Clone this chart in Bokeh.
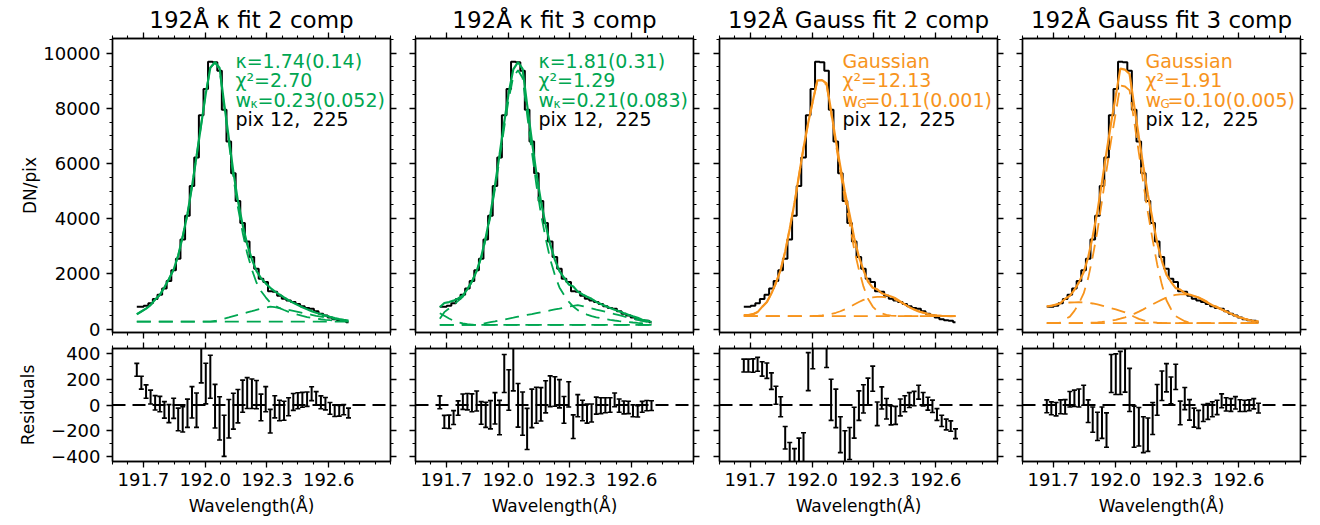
import numpy as np
from bokeh.plotting import figure
from bokeh.models import (Range1d, LinearAxis, FixedTicker, Label, Span,
                          ColumnDataSource, PrintfTickFormatter)
from bokeh.layouts import gridplot
from bokeh.embed import file_html
from bokeh.resources import INLINE

# ---------------- data ----------------
wavelength = [191.668, 191.690, 191.713, 191.735, 191.757, 191.780, 191.802, 191.824,
              191.847, 191.869, 191.891, 191.914, 191.936, 191.958, 191.981, 192.003,
              192.025, 192.048, 192.070, 192.092, 192.115, 192.137, 192.159, 192.182,
              192.204, 192.227, 192.249, 192.271, 192.294, 192.316, 192.338, 192.361,
              192.383, 192.405, 192.428, 192.450, 192.472, 192.495, 192.517, 192.539,
              192.562, 192.584, 192.606, 192.629, 192.651, 192.673, 192.696]

intensity = [816, 816, 852, 936, 1090, 1250, 1476, 1750, 2136, 2556, 3250, 4110, 5190,
             6216, 7750, 8700, 9690, 9670, 9360, 7950, 6800, 5652, 4641, 3849, 3173,
             2618, 2191, 1831, 1705, 1374, 1356, 1212, 1105, 1036, 984, 908, 835, 765,
             743, 647, 561, 500, 419, 360, 325, 304, 253]

sigma = [50, 50, 52, 54, 56, 60, 64, 70, 78, 88, 98, 110, 122, 134, 148, 158, 168, 170,
         168, 160, 150, 140, 130, 125, 120, 115, 110, 104, 98, 92, 86, 80, 74, 70, 66,
         62, 58, 56, 54, 52, 50, 48, 46, 44, 42, 40, 38]

# kappa, 2 components
fit_k2 = [542, 642, 747, 874, 1073, 1243, 1514, 1817, 2162, 2668, 3362, 4174, 5169, 6256,
          7430, 8533, 9470, 9679, 9464, 8190, 6907, 5700, 4650, 3780, 3080, 2530, 2110,
          1850, 1660, 1500, 1370, 1255, 1150, 1050, 960, 875, 795, 720, 655, 595, 540,
          490, 445, 405, 370, 340, 315]
res_k2 = [274, 174, 105, 62, 17, 7, -38, -67, -26, -112, -112, -64, 21, -40, 320, 167,
          220, -9, -104, -240, -107, -48, -9, 69, 93, 88, 81, -19, 45, -126, -14, -43,
          -45, -14, 24, 33, 40, 45, 88, 52, 21, 10, -26, -45, -45, -36, -62]
main_k2 = [542, 642, 747, 874, 1073, 1243, 1514, 1817, 2162, 2668, 3362, 4174, 5169, 6256,
           7430, 8533, 9470, 9659, 9404, 8085, 6757, 5505, 4410, 3495, 2750, 2155, 1690,
           1385, 1155, 960, 850, 765, 695, 630, 575, 525, 480, 440, 410, 385, 360, 340,
           325, 310, 300, 295, 290]
blend_k2 = [276, 276, 276, 276, 276, 276, 276, 276, 276, 276, 276, 276, 276, 276, 276, 276,
            276, 296, 336, 381, 426, 471, 516, 561, 606, 651, 696, 741, 781, 816, 796, 766,
            731, 696, 661, 626, 591, 556, 521, 486, 456, 426, 396, 371, 346, 321, 301]
bg_k2 = 276

# kappa, 3 components
fit_k3 = [795, 947, 983, 1034, 1114, 1224, 1450, 1733, 2105, 2618, 3326, 4186, 5216, 6314,
          7505, 8583, 9412, 9672, 9427, 8136, 6826, 5654, 4636, 3785, 3066, 2513, 2103,
          1869, 1622, 1543, 1361, 1255, 1172, 1098, 989, 913, 837, 765, 703, 652, 580,
          519, 464, 410, 339, 309, 258]
res_k3 = [21, -131, -131, -98, -24, 26, 26, 17, 31, -62, -76, -76, -26, -98, 245, 117, 278,
          -2, -67, -186, -26, -2, 5, 64, 107, 105, 88, -38, 83, -169, -5, -43, -67, -62,
          -5, -5, -2, 0, 40, -5, -19, -19, -45, -50, -14, -5, -5]
main_k3 = [375, 617, 753, 884, 1024, 1174, 1425, 1723, 2105, 2588, 3261, 4086, 5086, 6149,
           7310, 8353, 9152, 9377, 9102, 7776, 6436, 5229, 4176, 3295, 2541, 1953, 1513,
           1244, 1000, 820, 690, 600, 530, 475, 430, 395, 365, 338, 315, 295, 275, 258,
           242, 228, 215, 204, 194]
left_k3 = [576, 486, 386, 306, 246, 206, 181, 166, 156, 156, 156, 156, 156, 156, 156, 156,
           156, 156, 156, 156, 156, 156, 156, 156, 156, 156, 156, 156, 156, 156, 156, 156,
           156, 156, 156, 156, 156, 156, 156, 156, 156, 156, 156, 156, 156, 156, 156]
blend_k3 = [156, 156, 156, 156, 156, 156, 156, 156, 156, 186, 221, 256, 286, 321, 351, 386,
            416, 451, 481, 516, 546, 581, 616, 646, 681, 716, 746, 781, 816, 846, 871, 836,
            796, 756, 711, 671, 631, 586, 546, 506, 461, 421, 381, 341, 301, 261, 221]
bg_k3 = 156

# Gaussian, 2 components
fit_g2 = [509, 509, 545, 619, 809, 983, 1290, 1674, 2150, 2811, 3640, 4560, 5570, 6566,
          7490, 8260, 9010, 9020, 8900, 7910, 6826, 5883, 4971, 4149, 3311, 2623, 2143,
          1726, 1500, 1443, 1301, 1241, 1186, 1117, 1003, 898, 797, 715, 643, 602, 551,
          510, 493, 484, 477, 468, 477]
res_g2 = [307, 307, 307, 317, 281, 267, 186, 76, -14, -255, -390, -450, -380, -350, 260,
          440, 680, 650, 460, 40, -26, -231, -330, -300, -138, -5, 48, 105, 205, -69, 55,
          -29, -81, -81, -19, 10, 38, 50, 100, 45, 10, -10, -74, -124, -152, -164, -224]
main_g2 = [509, 509, 545, 619, 809, 983, 1290, 1674, 2150, 2811, 3640, 4560, 5570, 6564,
           7486, 8252, 8995, 8992, 8850, 7828, 6701, 5703, 4721, 3822, 2888, 2150, 1550,
           1100, 820, 660, 570, 520, 495, 482, 476, 472, 470, 470, 470, 470, 470, 470,
           470, 470, 470, 470, 470]
blend_g2 = [470, 470, 470, 470, 470, 470, 470, 470, 470, 470, 470, 470, 470, 472, 474, 478,
            485, 498, 520, 552, 595, 650, 720, 797, 893, 983, 1060, 1115, 1150, 1168, 1168,
            1150, 1115, 1070, 983, 893, 797, 720, 650, 595, 552, 520, 498, 485, 478, 474, 472]
bg_g2 = 470

# Gaussian, 3 components
fit_g3 = [826, 842, 885, 950, 1104, 1205, 1424, 1695, 2060, 2604, 3364, 4277, 5328, 6411,
          7505, 8460, 9440, 9400, 9243, 8119, 6969, 5883, 4872, 3954, 3133, 2468, 1979,
          1717, 1486, 1436, 1306, 1250, 1203, 1148, 1046, 958, 868, 784, 710, 642, 561,
          483, 424, 367, 327, 294, 277]
res_g3 = [-10, -26, -33, -14, -14, 45, 52, 55, 76, -48, -114, -167, -138, -195, 245, 240,
          250, 270, 117, -169, -169, -231, -231, -105, 40, 150, 212, 114, 219, -62, 50,
          -38, -98, -112, -62, -50, -33, -19, 33, 5, 0, 17, -5, -7, -2, 10, -24]
main_g3 = [226, 216, 216, 240, 369, 455, 664, 931, 1296, 1850, 2627, 3565, 4647, 5755,
           6869, 7837, 8826, 8791, 8650, 7543, 6390, 5280, 4219, 3237, 2345, 1606, 1049,
           730, 470, 380, 290, 240, 222, 218, 216, 216, 216, 216, 216, 216, 216, 216, 216,
           216, 216, 216, 216]
left_g3 = [816, 856, 896, 926, 951, 966, 974, 976, 971, 956, 931, 896, 851, 806, 761, 716,
           666, 611, 536, 451, 376, 316, 276, 249, 233, 224, 220, 218, 216, 216, 216, 216,
           216, 216, 216, 216, 216, 216, 216, 216, 216, 216, 216, 216, 216, 216, 216]
blend_g3 = [216, 216, 216, 216, 216, 216, 218, 220, 225, 230, 238, 248, 262, 282, 307, 339,
            380, 430, 489, 557, 635, 719, 809, 900, 987, 1070, 1142, 1201, 1242, 1263, 1263,
            1242, 1201, 1142, 1070, 987, 900, 809, 719, 635, 557, 489, 430, 380, 339, 307,
            282]
bg_g3 = 216

titles = ["192Å κ fit 2 comp", "192Å κ fit 3 comp",
          "192Å Gauss fit 2 comp", "192Å Gauss fit 3 comp"]
line1 = ["κ=1.74(0.14)", "κ=1.81(0.31)", "Gaussian", "Gaussian"]
chi2 = ["χ²=2.70", "χ²=1.29", "χ²=12.13", "χ²=1.91"]
w_sub = ["κ", "κ", "G", "G"]
w_val = ["=0.23(0.052)", "=0.21(0.083)", "=0.11(0.001)", "=0.10(0.005)"]
pix_text = "pix 12,\u00a0 225"

x_ticks = [191.7, 192.0, 192.3, 192.6]
y_ticks = [0, 2000, 4000, 6000, 8000, 10000]
r_ticks = [-400, -200, 0, 200, 400]

# ---------------- styling ----------------
GREEN = "#00a651"
ORANGE = "#f7941d"
FONT = "DejaVu Sans"
X_RANGE = (191.55, 192.90)
Y_RANGE = (-120, 10530)
R_RANGE = (-440, 440)
FRAME_W = 278
LEFTS = [112, 13, 13, 13]
RIGHTS = [12, 13, 12, 10]
UP_TOP, UP_FRAME, UP_BOT = 38, 294, 8
RS_TOP, RS_FRAME, RS_BOT = 8, 113, 64

x_minor = [round(v, 4) for v in np.arange(191.55, 192.9001, 0.075)]
y_minor = list(range(0, 10501, 500))
r_minor = list(range(-400, 401, 100))


def style_axis(ax, ticks, minor, labels=True, overrides=None):
    ax.ticker = FixedTicker(ticks=ticks, minor_ticks=minor)
    ax.major_tick_in = 0
    ax.major_tick_out = 6
    ax.minor_tick_in = 0
    ax.minor_tick_out = 3
    ax.major_tick_line_color = "black"
    ax.minor_tick_line_color = "black"
    ax.major_tick_line_width = 1.3
    ax.minor_tick_line_width = 1.1
    ax.axis_line_color = "black"
    ax.axis_line_width = 1.4
    ax.major_label_text_font = FONT
    ax.major_label_text_color = "black"
    ax.axis_label_text_font = FONT
    ax.axis_label_text_font_style = "normal"
    ax.axis_label_text_font_size = "17px"
    ax.axis_label_text_color = "black"
    if labels:
        ax.major_label_text_font_size = "18px"
        ax.major_label_standoff = 6
        if overrides:
            ax.major_label_overrides = overrides
    else:
        ax.major_label_text_font_size = "0px"
        ax.major_label_standoff = 0
        ax.major_label_overrides = {t: "" for t in ticks}


def base_fig(k, top, frame_h, bottom, yr):
    p = figure(width=LEFTS[k] + FRAME_W + RIGHTS[k], height=top + frame_h + bottom,
               x_range=Range1d(*X_RANGE), y_range=Range1d(*yr),
               output_backend="svg", toolbar_location=None,
               min_border_left=LEFTS[k], min_border_right=RIGHTS[k],
               min_border_top=top, min_border_bottom=bottom)
    p.grid.visible = False
    p.outline_line_color = "black"
    p.outline_line_width = 1.4
    p.background_fill_color = "white"
    p.border_fill_color = "white"
    return p


figs_up, figs_res = [], []
fits = [fit_k2, fit_k3, fit_g2, fit_g3]
ress = [res_k2, res_k3, res_g2, res_g3]
comps = [[main_k2, blend_k2], [main_k3, left_k3, blend_k3],
         [main_g2, blend_g2], [main_g3, left_g3, blend_g3]]
bgs = [bg_k2, bg_k3, bg_g2, bg_g3]
colors = [GREEN, GREEN, ORANGE, ORANGE]

for k in range(4):
    col = colors[k]
    # ---------- upper spectrum panel ----------
    p = base_fig(k, UP_TOP, UP_FRAME, UP_BOT, Y_RANGE)
    p.title.text = titles[k]
    p.title.text_font = FONT
    p.title.text_font_size = "23px"
    p.title.text_font_style = "normal"
    p.title.text_color = "black"
    p.title.align = "center"
    p.title.standoff = 0
    p.title.offset = 0

    style_axis(p.xaxis[0], x_ticks, x_minor, labels=False)
    style_axis(p.yaxis[0], y_ticks, y_minor, labels=(k == 0))
    if k == 0:
        p.yaxis[0].axis_label = "DN/pix"
        p.yaxis[0].axis_label_standoff = 0
    top_ax = LinearAxis()
    style_axis(top_ax, x_ticks, x_minor, labels=False)
    p.add_layout(top_ax, "above")
    right_ax = LinearAxis()
    style_axis(right_ax, y_ticks, y_minor, labels=False)
    p.add_layout(right_ax, "right")

    p.step(wavelength, intensity, mode="center", line_color="black", line_width=2)
    p.line([wavelength[0], wavelength[-1]], [bgs[k], bgs[k]], line_color=col,
           line_width=1.8, line_dash="14 8")
    for c in comps[k]:
        p.line(wavelength, c, line_color=col, line_width=1.8, line_dash="14 8")
    p.line(wavelength, fits[k], line_color=col, line_width=2.2)

    xo = 123
    lab = dict(x=X_RANGE[0], y=Y_RANGE[1], x_units="data", y_units="data",
               text_font=FONT, text_baseline="alphabetic", text_align="left")
    p.add_layout(Label(text=line1[k], x_offset=xo, y_offset=-22, text_color=col,
                       text_font_size="19px", **lab))
    p.add_layout(Label(text=chi2[k], x_offset=xo, y_offset=-41.5, text_color=col,
                       text_font_size="19px", **lab))
    p.add_layout(Label(text="w", x_offset=xo, y_offset=-61, text_color=col,
                       text_font_size="19px", **lab))
    p.add_layout(Label(text=w_sub[k], x_offset=xo + 15, y_offset=-65, text_color=col,
                       text_font_size="12px", **lab))
    p.add_layout(Label(text=w_val[k], x_offset=xo + 22, y_offset=-61, text_color=col,
                       text_font_size="19px", **lab))
    p.add_layout(Label(text=pix_text, x_offset=xo, y_offset=-80, text_color="black",
                       text_font_size="19px", **lab))
    figs_up.append(p)

    # ---------- residual panel ----------
    r = base_fig(k, RS_TOP, RS_FRAME, RS_BOT, R_RANGE)
    style_axis(r.xaxis[0], x_ticks, x_minor, labels=True)
    r.xaxis[0].formatter = PrintfTickFormatter(format="%.1f")
    r.xaxis[0].major_label_standoff = 5
    r.xaxis[0].axis_label = "Wavelength(Å)"
    r.xaxis[0].axis_label_standoff = 7
    style_axis(r.yaxis[0], r_ticks, r_minor, labels=(k == 0),
               overrides={-400: "−400", -200: "−200"})
    if k == 0:
        r.yaxis[0].axis_label = "Residuals"
        r.yaxis[0].axis_label_standoff = 10
    top_r = LinearAxis()
    style_axis(top_r, x_ticks, x_minor, labels=False)
    r.add_layout(top_r, "above")
    right_r = LinearAxis()
    style_axis(right_r, r_ticks, r_minor, labels=False)
    r.add_layout(right_r, "right")

    r.add_layout(Span(location=0, dimension="width", line_color="black",
                      line_width=2, line_dash="13 7"))
    src = ColumnDataSource(dict(
        x=wavelength,
        lo=[v - s for v, s in zip(ress[k], sigma)],
        hi=[v + s for v, s in zip(ress[k], sigma)],
    ))
    r.segment(x0="x", y0="lo", x1="x", y1="hi", source=src, line_color="black",
              line_width=2)
    r.scatter(x="x", y="lo", source=src, marker="dash", size=5, line_color="black",
              line_width=1.6)
    r.scatter(x="x", y="hi", source=src, marker="dash", size=5, line_color="black",
              line_width=1.6)
    figs_res.append(r)

grid = gridplot([figs_up, figs_res], toolbar_location=None)
open("out.html", "w").write(file_html(grid, INLINE))
